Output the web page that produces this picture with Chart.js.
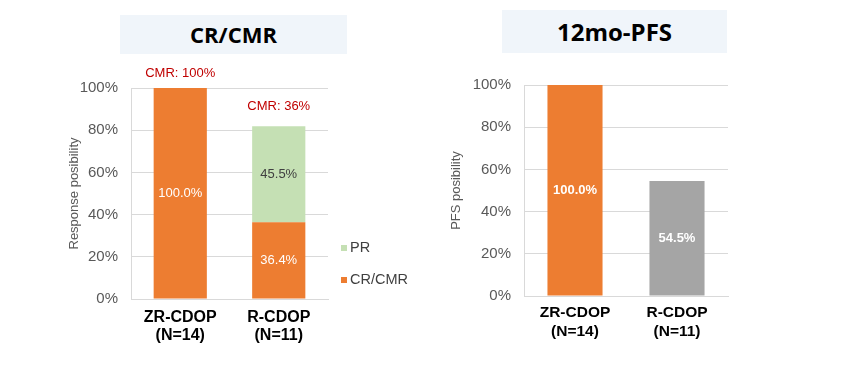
<!DOCTYPE html>
<html>
<head>
<meta charset="utf-8">
<script src="https://cdn.jsdelivr.net/npm/chart.js@4.4.0/dist/chart.umd.min.js"></script>
<style>
  body { margin: 0; background: #fff; width: 841px; height: 365px; position: relative; overflow: hidden; }
  .tbox { position: absolute; background: #F0F5FA; font-family: "Open Sans", "Noto Sans", sans-serif; font-weight: bold; color: #000; text-align: center; }
  canvas { position: absolute; }
</style>
</head>
<body>
<div class="tbox" style="left:120px;top:15px;width:227px;height:39px;line-height:39px;font-size:22px;">CR/CMR</div>
<div class="tbox" style="left:502px;top:10px;width:225px;height:43px;line-height:43px;font-size:24px;">12mo-PFS</div>
<canvas id="crChart" width="380" height="290" style="left:60px;top:60px;"></canvas>
<canvas id="pfsChart" width="300" height="290" style="left:440px;top:60px;"></canvas>
<script>
var categories = [['ZR-CDOP', '(N=14)'], ['R-CDOP', '(N=11)']];
var crCmr = [100.0, 36.4];
var pr = [null, 45.5];
var cmrNotes = ['CMR: 100%', 'CMR: 36%'];
var pfs = [100.0, 54.5];

var FONT = '"Liberation Sans", Arial, sans-serif';
var grey = '#595959';
var gridColor = '#D9D9D9';

// value text in the middle of every bar segment
var barLabels = {
    id: 'barLabels',
    afterDatasetsDraw: function (chart, args, opts) {
        var ctx = chart.ctx;
        ctx.save();
        ctx.textAlign = 'center';
        ctx.textBaseline = 'middle';
        ctx.font = (opts.bold ? 'bold ' : '') + '13px ' + FONT;
        chart.data.datasets.forEach(function (ds, di) {
            chart.getDatasetMeta(di).data.forEach(function (el, i) {
                var v = ds.data[i];
                if (v === null || v === undefined) return;
                ctx.fillStyle = ds.labelColor || '#fff';
                ctx.fillText(v.toFixed(1) + '%', el.x, (el.y + el.base) / 2);
            });
        });
        ctx.restore();
    }
};

// "CMR: xx%" notes above the stacks
var topNotes = {
    id: 'topNotes',
    afterDatasetsDraw: function (chart, args, opts) {
        if (!opts.notes) return;
        var ctx = chart.ctx;
        var x = chart.scales.x, y = chart.scales.y;
        ctx.save();
        ctx.textAlign = 'center';
        ctx.textBaseline = 'middle';
        ctx.font = '13px ' + FONT;
        ctx.fillStyle = '#C00000';
        opts.notes.forEach(function (t, i) {
            var total = (crCmr[i] || 0) + (pr[i] || 0);
            ctx.fillText(t, x.getPixelForValue(i), y.getPixelForValue(total) - opts.offsets[i]);
        });
        ctx.restore();
    }
};

// small legend on the right, last series on top
var sideLegend = {
    id: 'sideLegend',
    afterDraw: function (chart, args, opts) {
        if (!opts.show) return;
        var ctx = chart.ctx;
        var area = chart.chartArea;
        var list = chart.data.datasets.slice().reverse();
        ctx.save();
        ctx.font = '14.5px ' + FONT;
        ctx.textBaseline = 'middle';
        list.forEach(function (ds, k) {
            var yy = area.bottom - 51 + k * 32;
            ctx.fillStyle = ds.backgroundColor;
            ctx.fillRect(area.right + 13, yy - 3, 6, 6);
            ctx.fillStyle = '#404040';
            ctx.fillText(ds.label, area.right + 22, yy);
        });
        ctx.restore();
    }
};

function makeOptions(yTitle, yWidth, titlePad, xFont, xPad, xLine, padRight, padTop) {
    return {
        responsive: false,
        animation: false,
        layout: { padding: { left: 0, right: padRight, top: padTop, bottom: 0 } },
        plugins: { legend: { display: false }, tooltip: { enabled: false } },
        scales: {
            x: {
                stacked: true,
                grid: { display: false, drawTicks: false },
                border: { color: gridColor },
                ticks: { color: '#000', font: { family: FONT, size: xFont, weight: 'bold', lineHeight: xLine }, padding: xPad, maxRotation: 0 }
            },
            y: {
                stacked: true,
                min: 0, max: 100,
                grid: { color: gridColor, drawTicks: false },
                border: { color: gridColor },
                ticks: { stepSize: 20, color: grey, padding: 13, font: { family: FONT, size: 15 }, callback: function (v) { return v + '%'; } },
                title: { display: true, text: yTitle, color: grey, font: { family: FONT, size: 13 }, padding: { top: titlePad, bottom: 0 } },
                afterFit: function (s) { s.width = yWidth; }
            }
        }
    };
}

var opt1 = makeOptions('Response posibility', 71, 7, 16, 10, 1.1, 112, 28);
opt1.scales.x.afterFit = function (s) { s.height = 51; };
opt1.plugins.barLabels = { bold: false };
opt1.plugins.topNotes = { notes: cmrNotes, offsets: [15, 20] };
opt1.plugins.sideLegend = { show: true };

new Chart(document.getElementById('crChart'), {
    type: 'bar',
    data: {
        labels: categories,
        datasets: [
            { label: 'CR/CMR', data: crCmr, backgroundColor: '#ED7D31', barPercentage: 0.54, categoryPercentage: 1, labelColor: '#fff' },
            { label: 'PR', data: pr, backgroundColor: '#C5E0B4', barPercentage: 0.54, categoryPercentage: 1, labelColor: '#404040' }
        ]
    },
    options: opt1,
    plugins: [barLabels, topNotes, sideLegend]
});

var opt2 = makeOptions('PFS posibility', 84, 9, 15.5, 7.7, 1.2, 12, 25);
opt2.scales.x.afterFit = function (s) { s.height = 54; };
opt2.plugins.barLabels = { bold: true };
opt2.plugins.topNotes = {};
opt2.plugins.sideLegend = { show: false };

new Chart(document.getElementById('pfsChart'), {
    type: 'bar',
    data: {
        labels: categories,
        datasets: [
            { label: '12mo-PFS', data: pfs, backgroundColor: ['#ED7D31', '#A5A5A5'], barPercentage: 0.54, categoryPercentage: 1, labelColor: '#fff' }
        ]
    },
    options: opt2,
    plugins: [barLabels, topNotes, sideLegend]
});
</script>
</body>
</html>
